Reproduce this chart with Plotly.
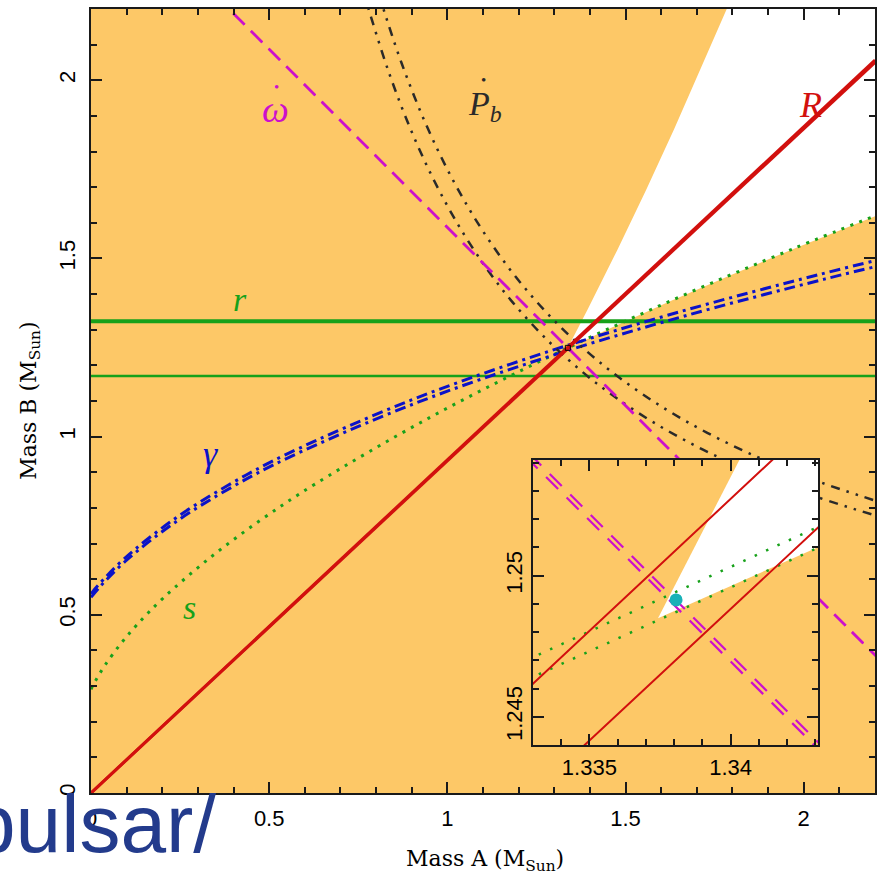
import plotly.graph_objects as go

# ---------------- data (masses in solar masses) ----------------
MAIN_RANGE = [0.0, 2.2]
INSET_X_RANGE = [1.333, 1.3431]
INSET_Y_RANGE = [1.244, 1.2541]

# Mass ratio R (two bounds, straight lines through origin)
R_mA = [0.0, 2.2]
R_lo_mB = [0.0, 2.0567]
R_hi_mB = [0.0, 2.0503]

# Shapiro range r (horizontal lines)
r_mA = [0.0, 2.2]
r_hi_mB = [1.324, 1.324]
r_lo_mB = [1.170, 1.170]

# Periastron advance omega-dot (total-mass lines, two bounds)
wdot_lo_mA = [0.30, 2.30]
wdot_lo_mB = [2.28696, 0.28696]
wdot_hi_mA = [0.30, 2.30]
wdot_hi_mB = [2.28720, 0.28720]

# Shapiro shape s (main panel)
s_mA = [0.0, 0.00297, 0.02081, 0.04018, 0.08246, 0.12850, 0.20287, 0.3372,
        0.48089, 0.63149, 0.94787, 1.27911, 1.62132, 1.97210, 2.22186]
s_mB = [0.29117, 0.29703, 0.32919, 0.35982, 0.41754, 0.47150, 0.54713, 0.6628,
        0.76911, 0.86851, 1.05213, 1.22089, 1.37868, 1.52790, 1.62814]

# Shapiro shape s (inset, two bounds)
s_in_mA = [1.332, 1.344]
s_in_hi_mB = [1.24665, 1.25214]
s_in_lo_mB = [1.24596, 1.25140]

# Gravitational redshift gamma (two bounds)
gamma_lo_mA = [0.0, 0.02328, 0.09815, 0.23865, 0.39300, 0.55734, 0.90737,
               1.27764, 1.66237, 2.05803, 2.25917]
gamma_lo_mB = [0.54903, 0.57672, 0.65185, 0.76135, 0.85700, 0.94266, 1.09263,
               1.22236, 1.33763, 1.44197, 1.49083]
gamma_hi_mA = [0.0, 0.01868, 0.09286, 0.23232, 0.38575, 0.54924, 0.89776,
               1.26668, 1.65020, 2.04474, 2.24535]
gamma_hi_mB = [0.55889, 0.58132, 0.65714, 0.76768, 0.86425, 0.95076, 1.10224,
               1.23332, 1.34980, 1.45526, 1.50465]

# Orbital decay Pb-dot (two bounds)
pbdot_lo_mA = [0.77043, 0.77853, 0.83476, 0.89652, 0.96412, 1.03763, 1.11512,
               1.18454, 1.27574, 1.37546, 1.46488, 1.58238, 1.71588, 1.86348,
               2.02524, 2.20148, 2.22958]
pbdot_lo_mB = [2.22958, 2.20148, 2.02524, 1.86348, 1.71588, 1.58238, 1.46488,
               1.37546, 1.27574, 1.18454, 1.11512, 1.03763, 0.96412, 0.89652,
               0.83476, 0.77853, 0.77043]
pbdot_hi_mA = [0.80785, 0.82098, 0.87145, 0.93723, 1.01064, 1.09357, 1.19279,
               1.31265, 1.44721, 1.58643, 1.72936, 1.88277, 2.04855, 2.19902,
               2.24216]
pbdot_hi_mB = [2.24216, 2.19902, 2.04855, 1.88277, 1.72936, 1.58643, 1.44721,
               1.31265, 1.19279, 1.09357, 1.01064, 0.93723, 0.87145, 0.82098,
               0.80785]

# Allowed (white) region
allowed_mA = [1.33726, 1.39355, 1.47665, 1.55769, 1.63648, 1.78883, 2.3, 2.3,
              2.22237, 1.97257, 1.79612, 1.62175, 1.44931, 1.33726]
allowed_mB = [1.24815, 1.35645, 1.52335, 1.69231, 1.86352, 2.21117, 2.3, 1.66,
              1.62763, 1.52743, 1.45388, 1.37825, 1.30069, 1.24815]
allowed_in_mA = [1.33743, 1.34129, 1.345, 1.345, 1.33743]
allowed_in_mB = [1.24849, 1.256, 1.256, 1.25186, 1.24849]

# Measured masses
DP_mA = [1.33807]
DP_mB = [1.24914]

# ---------------- styling ----------------
ORANGE = '#FDC867'
RED = '#D2100E'
GREEN = '#17A11A'
BLUE = '#0B12C8'
MAGENTA = '#CC10CC'
DARK = '#2A2A2A'

fig = go.Figure()


def line(x, y, color, width, dash='solid', axes=('x', 'y'), shape='linear'):
    fig.add_trace(go.Scatter(x=x, y=y, mode='lines', xaxis=axes[0], yaxis=axes[1],
                             line=dict(color=color, width=width, dash=dash, shape=shape),
                             hoverinfo='skip', showlegend=False))


# main panel
fig.add_trace(go.Scatter(x=allowed_mA, y=allowed_mB, mode='lines', fill='toself',
                         fillcolor='white', line=dict(width=0, color='white'),
                         hoverinfo='skip', showlegend=False))
line(r_mA, r_hi_mB, GREEN, 4)
line(r_mA, r_lo_mB, GREEN, 2.5)
line(s_mA, s_mB, GREEN, 3, dash='3px,6.5px', shape='spline')
line(gamma_lo_mA, gamma_lo_mB, BLUE, 3, dash='11px,5px,3px,5px', shape='spline')
line(gamma_hi_mA, gamma_hi_mB, BLUE, 3, dash='11px,5px,3px,5px', shape='spline')
line(pbdot_lo_mA, pbdot_lo_mB, DARK, 2.5, dash='2.5px,7px,2.5px,7px,9px,7px', shape='spline')
line(pbdot_hi_mA, pbdot_hi_mB, DARK, 2.5, dash='9px,7px,2.5px,7px,2.5px,7px', shape='spline')
line(wdot_lo_mA, wdot_lo_mB, MAGENTA, 2.5, dash='16px,9px')
line(wdot_hi_mA, wdot_hi_mB, MAGENTA, 2.5, dash='16px,9px')
line(R_mA, R_lo_mB, RED, 3)
line(R_mA, R_hi_mB, RED, 3)
fig.add_trace(go.Scatter(x=DP_mA, y=DP_mB, mode='markers',
                         marker=dict(symbol='square-open', size=5, color='black', line=dict(width=1)),
                         hoverinfo='skip', showlegend=False))

# inset panel
IN = ('x2', 'y2')
fig.add_trace(go.Scatter(x=allowed_in_mA, y=allowed_in_mB, mode='lines', fill='toself',
                         fillcolor='white', line=dict(width=0, color='white'),
                         xaxis='x2', yaxis='y2', hoverinfo='skip', showlegend=False))
line(s_in_mA, s_in_hi_mB, GREEN, 2.5, dash='2.5px,10px', axes=IN)
line(s_in_mA, s_in_lo_mB, GREEN, 2.5, dash='2.5px,10px', axes=IN)
line(R_mA, R_lo_mB, RED, 2, axes=IN)
line(R_mA, R_hi_mB, RED, 2, axes=IN)
line(wdot_lo_mA, wdot_lo_mB, MAGENTA, 2.2, dash='17px,12px', axes=IN)
line(wdot_hi_mA, wdot_hi_mB, MAGENTA, 2.2, dash='17px,12px', axes=IN)
fig.add_trace(go.Scatter(x=DP_mA, y=DP_mB, mode='markers', xaxis='x2', yaxis='y2',
                         marker=dict(symbol='circle', size=13, color='#19B2B8'),
                         hoverinfo='skip', showlegend=False))

TICKFONT = dict(family='Liberation Sans, Arial, sans-serif', size=22, color='black')


def axis(rng, dtick, tick0, minor_dtick, angle=0, domain=(0, 1), anchor=None, standoff=0):
    d = dict(range=rng, dtick=dtick, tick0=tick0, domain=list(domain), showgrid=False,
             zeroline=False, showline=True, linecolor='#1a1a1a', linewidth=2,
             mirror='allticks', ticks='inside', ticklen=11, tickwidth=2.2, tickcolor='#1a1a1a',
             tickfont=TICKFONT, tickangle=angle, fixedrange=True, layer='above traces',
             ticklabelstandoff=standoff,
             minor=dict(ticks='inside', ticklen=6, tickwidth=1.8, tickcolor='#1a1a1a',
                        dtick=minor_dtick, tick0=tick0, showgrid=False))
    if anchor:
        d['anchor'] = anchor
    return d


fig.update_layout(
    width=884, height=884,
    margin=dict(l=91, r=7, t=7, b=91),
    paper_bgcolor='white', plot_bgcolor=ORANGE,
    showlegend=False,
    xaxis=axis(MAIN_RANGE, 0.5, 0, 0.1, standoff=5),
    yaxis=axis(MAIN_RANGE, 0.5, 0, 0.1, angle=-90, standoff=5),
    xaxis2=axis(INSET_X_RANGE, 0.005, 1.335, 0.001, domain=(0.5636, 0.9275),
                anchor='y2', standoff=2),
    yaxis2=axis(INSET_Y_RANGE, 0.005, 1.245, 0.001, angle=-90,
                domain=(0.0611, 0.4249), anchor='x2', standoff=0),
)

SERIF = 'DejaVu Serif, serif'
LBL = 'Liberation Serif, Times New Roman, serif'
annots = [
    dict(x=2.018, y=1.931, text='<i>R</i>', font=dict(family=LBL, size=36, color=RED)),
    dict(x=0.518, y=1.918, text='<i>ω</i>', font=dict(family=LBL, size=38, color=MAGENTA)),
    dict(x=0.521, y=1.982, text='•', font=dict(family=LBL, size=15, color=MAGENTA)),
    dict(x=1.105, y=1.928, text='<i>P</i><sub><i>b</i></sub>', font=dict(family=LBL, size=34, color=DARK)),
    dict(x=1.100, y=2.001, text='•', font=dict(family=LBL, size=15, color=DARK)),
    dict(x=0.417, y=1.385, text='<i>r</i>', font=dict(family=LBL, size=34, color=GREEN)),
    dict(x=0.335, y=0.952, text='<i>γ</i>', font=dict(family=LBL, size=36, color=BLUE)),
    dict(x=0.277, y=0.520, text='<i>s</i>', font=dict(family=LBL, size=34, color=GREEN)),
]
for a in annots:
    a.update(xref='x', yref='y', showarrow=False, xanchor='center', yanchor='middle')
    fig.add_annotation(**a)

fig.add_annotation(x=0.502, y=-0.0855, xref='paper', yref='paper', showarrow=False,
                   text='Mass A (M<sub>Sun</sub>)', xanchor='center', yanchor='middle',
                   font=dict(family=SERIF, size=22, color='black'))
fig.add_annotation(x=-0.078, y=0.5, xref='paper', yref='paper', showarrow=False,
                   text='Mass B (M<sub>Sun</sub>)', textangle=-90, xanchor='center',
                   yanchor='middle', font=dict(family=SERIF, size=22, color='black'))
fig.add_annotation(x=0.1615, y=-0.039, xref='paper', yref='paper', showarrow=False,
                   text='pulsar/', xanchor='right', yanchor='middle',
                   font=dict(family='Liberation Sans, Arial, sans-serif', size=82, color='#233B8C'))

fig.write_html("out.html", config={'displayModeBar': False},
               post_script="document.body.style.margin='0px';")
